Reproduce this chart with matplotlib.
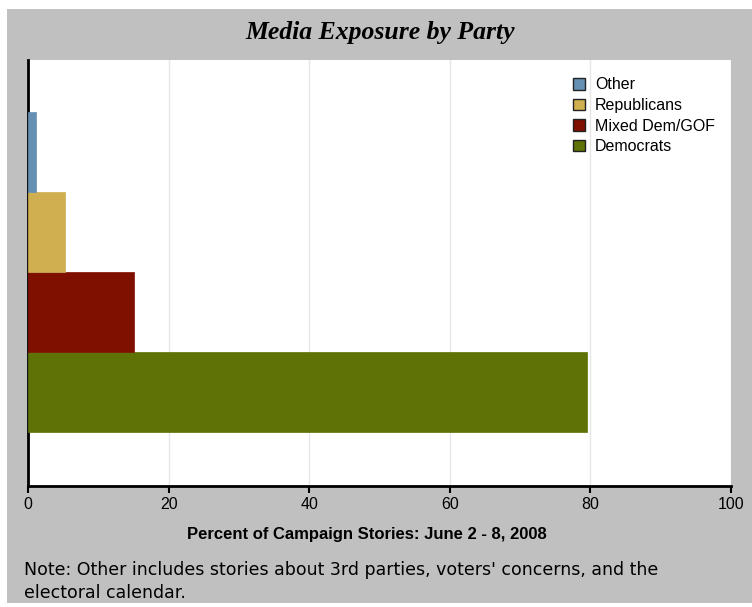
import matplotlib
matplotlib.use("Agg")
import matplotlib.pyplot as plt
from matplotlib.patches import Rectangle, Patch

categories = ["Democrats", "Mixed Dem/GOF", "Republicans", "Other"]
values = [79.5, 15.1, 5.3, 1.1]
colors = ["#5e7205", "#7f1000", "#cfaf4f", "#6590b4"]
xticks = [0, 20, 40, 60, 80, 100]

W, H = 752, 607
fig = plt.figure(figsize=(W / 100, H / 100), dpi=100)
fig.patch.set_facecolor("white")

def fx(px):
    return px / W

def fy(py):
    return 1 - py / H

bg = Rectangle((fx(7), fy(603)), fx(752) - fx(7), fy(9) - fy(603),
               transform=fig.transFigure, facecolor="#c0c0c0",
               edgecolor="none", zorder=-5)
fig.patches.append(bg)

left, right, top, bottom = 28, 731, 60, 486
ax = fig.add_axes([fx(left), fy(bottom), fx(right) - fx(left), fy(top) - fy(bottom)])
ax.set_zorder(2)
ax.set_facecolor("white")

for i, (cat, v, c) in enumerate(zip(categories, values, colors)):
    ax.barh(i, v, height=1.0, color=c, edgecolor=c, linewidth=0.5, label=cat, zorder=3)

ax.set_xlim(0, 100)
ax.set_ylim(-1.175, 4.15)
ax.set_xticks(xticks)
ax.set_xticklabels([str(t) for t in xticks], fontsize=11.5, family="Liberation Sans")
ax.set_yticks([])
ax.grid(axis="x", color="#e6e6e6", linewidth=1, zorder=0)
ax.tick_params(axis="x", direction="out", length=5, width=1.5, color="black", pad=3)
for s in ["top", "right"]:
    ax.spines[s].set_visible(False)
for s in ["left", "bottom"]:
    ax.spines[s].set_linewidth(2)
    ax.spines[s].set_color("black")

fig.text(fx(367), fy(535), "Percent of Campaign Stories: June 2 - 8, 2008", ha="center",
         va="center", fontsize=12, fontweight="bold", family="Liberation Sans")

handles = [Patch(facecolor=c, edgecolor="#222222", linewidth=1) for c in colors[::-1]]
labels = categories[::-1]
leg = fig.legend(handles, labels, loc="upper left", bbox_to_anchor=(fx(567), fy(71)),
                 frameon=False, handlelength=0.75, handleheight=0.75,
                 handletextpad=0.6, labelspacing=0.35, borderaxespad=0,
                 prop={"family": "Liberation Sans", "size": 11.5})
leg.set_zorder(5)

fig.text(fx(380), fy(32), "Media Exposure by Party", ha="center", va="center",
         fontsize=18.5, fontweight="bold", fontstyle="italic", family="Liberation Serif")

fig.text(fx(24), fy(570), "Note: Other includes stories about 3rd parties, voters' concerns, and the",
         ha="left", va="center", fontsize=12.5, family="DejaVu Sans")
fig.text(fx(24), fy(593), "electoral calendar.",
         ha="left", va="center", fontsize=12.5, family="DejaVu Sans")

fig.savefig("out.png", dpi=100)
